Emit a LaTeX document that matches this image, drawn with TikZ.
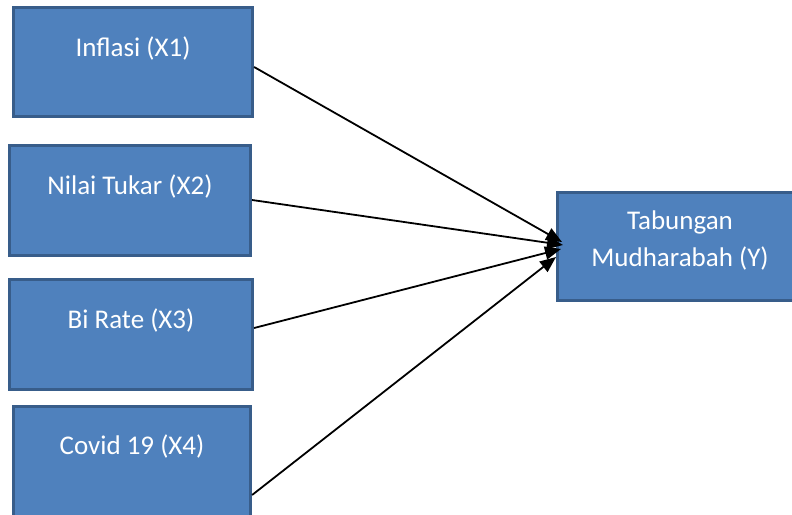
\documentclass[tikz,border=0pt]{standalone}
\usepackage{fontspec}
\setmainfont{Carlito}
\usetikzlibrary{arrows.meta,calc}
\definecolor{boxfill}{HTML}{4F81BD}
\definecolor{boxline}{HTML}{385D8A}
\tikzset{
  box/.style={rectangle, fill=boxfill, draw=boxline, line width=3.2bp, inner sep=0pt},
  lbl/.style={text=white, inner sep=0pt, anchor=base, align=center, font=\fontsize{27bp}{37bp}\selectfont},
  conn/.style={draw=black, line width=1.8bp, -{Triangle[length=16bp,width=13bp]}, shorten >=0pt}
}
\begin{document}
\begin{tikzpicture}[x=1bp,y=-1bp]
\useasboundingbox (0,0) rectangle (792,515);
\begin{scope}
\clip (0,0) rectangle (792,515);
\node[box, minimum width=239bp, minimum height=109bp] (x1) at (133,62) {};
\node[box, minimum width=241bp, minimum height=110bp] (x2) at (130,200.5) {};
\node[box, minimum width=243bp, minimum height=110bp] (x3) at (131,334.5) {};
\node[box, minimum width=237bp, minimum height=110bp] (x4) at (132,461.5) {};
\node[box, minimum width=245bp, minimum height=108bp] (y) at (680,246.5) {};
\node[lbl] (t1) at (133,57) {Inflasi (X1)};
\node[lbl] (t2) at (130,195) {Nilai Tukar (X2)};
\node[lbl] (t3) at (131,328) {Bi Rate (X3)};
\node[lbl] (t4) at (132,454) {Covid 19 (X4)};
\node[lbl] (ty) at (680,267) {Tabungan\\Mudharabah (Y)};
\coordinate (e1) at (562,242);
\coordinate (e2) at (563,245);
\coordinate (e3) at (561,249);
\coordinate (e4) at (556,257);
\draw[conn] ($(x1.east)+(0,5)$) -- (e1);
\draw[conn] ($(x2.east)+(0,-0.5)$) -- (e2);
\draw[conn] ($(x3.east)+(0,-6.5)$) -- (e3);
\draw[conn] ($(x4.east)+(0,33.5)$) -- (e4);
\end{scope}
\end{tikzpicture}
\end{document}
